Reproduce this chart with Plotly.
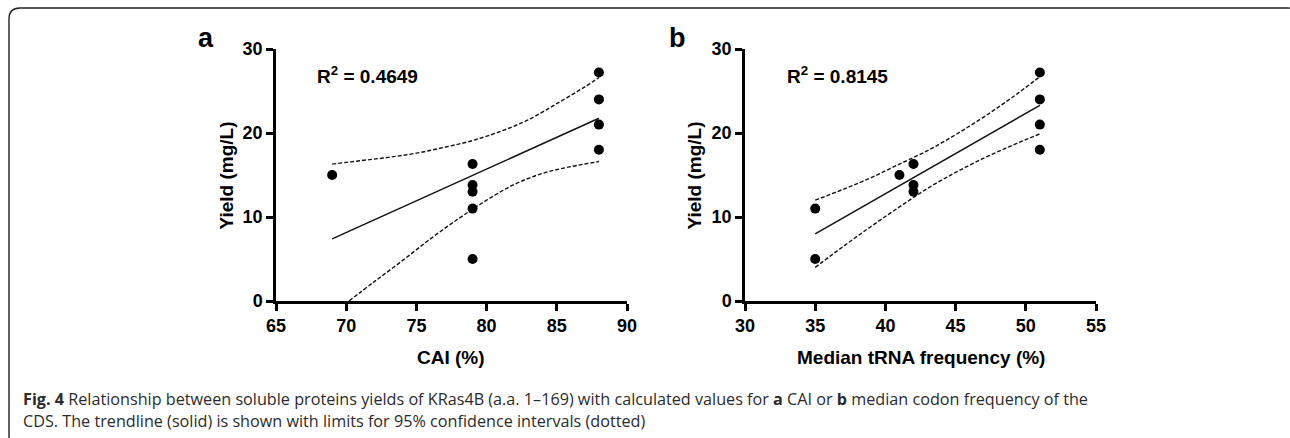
import plotly.graph_objects as go

W, H = 1290, 438

# ---- data ----
cai = [69, 79, 79, 79, 79, 79, 88, 88, 88, 88]
trna = [41, 42, 42, 42, 35, 35, 51, 51, 51, 51]
yield_mgl = [15.0, 16.3, 13.8, 13.0, 11.0, 5.0, 27.2, 24.0, 21.0, 18.0]

# trendlines (end points)
trend_a_x = [69, 88]
trend_a_y = [7.4, 21.75]
trend_b_x = [35, 51]
trend_b_y = [8.0, 23.3]

# 95% CI limits
upper_a_x = [69, 71, 73, 75, 77, 79, 81, 83, 85, 87, 88]
upper_a_y = [16.3, 16.7, 17.1, 17.6, 18.3, 19.1, 20.2, 21.6, 23.5, 25.5, 26.6]
lower_a_x = [70.2, 72, 74, 76, 78, 80, 82, 84, 86, 88]
lower_a_y = [0.0, 2.3, 4.8, 7.4, 9.8, 12.0, 13.9, 15.2, 16.0, 16.6]

upper_b_x = [35, 37, 39, 41, 43, 45, 47, 49, 51]
upper_b_y = [12.0, 13.3, 14.7, 16.3, 17.9, 19.8, 21.9, 24.2, 26.7]
lower_b_x = [35, 37, 39, 41, 43, 45, 47, 49, 51]
lower_b_y = [4.0, 6.5, 8.9, 11.2, 13.4, 15.3, 17.0, 18.5, 19.9]

r2_a = "R<sup>2</sup> = 0.4649"
r2_b = "R<sup>2</sup> = 0.8145"
xtitle_a = "CAI (%)"
xtitle_b = "Median tRNA frequency (%)"
ytitle = "Yield (mg/L)"
xticks_a = [65, 70, 75, 80, 85, 90]
xticks_b = [30, 35, 40, 45, 50, 55]
yticks = [0, 10, 20, 30]

caption1 = ("<b>Fig. 4</b> Relationship between soluble proteins yields of KRas4B (a.a. 1–169) "
            "with calculated values for <b>a</b> CAI or <b>b</b> median codon frequency of the")
caption2 = "CDS. The trendline (solid) is shown with limits for 95% confidence intervals (dotted)"

FONT = "Liberation Sans, Arial, sans-serif"
CAPFONT = "Open Sans, sans-serif"

def px(x):
    return x / W

def py(y):
    return 1 - y / H

fig = go.Figure()

def add_panel(xs, xref_axis, yref_axis, tx, ty, ux, uy, lx, ly):
    dash = dict(color="#111", width=1.4, dash="4px,2px", shape="spline")
    fig.add_trace(go.Scatter(x=ux, y=uy, mode="lines", line=dash,
                             xaxis=xref_axis, yaxis=yref_axis, showlegend=False, hoverinfo="skip"))
    fig.add_trace(go.Scatter(x=lx, y=ly, mode="lines", line=dash,
                             xaxis=xref_axis, yaxis=yref_axis, showlegend=False, hoverinfo="skip"))
    fig.add_trace(go.Scatter(x=tx, y=ty, mode="lines", line=dict(color="#111", width=1.5),
                             xaxis=xref_axis, yaxis=yref_axis, showlegend=False, hoverinfo="skip"))
    fig.add_trace(go.Scatter(x=xs, y=yield_mgl, mode="markers", marker=dict(color="black", size=10),
                             xaxis=xref_axis, yaxis=yref_axis, showlegend=False, cliponaxis=False))

add_panel(cai, "x", "y", trend_a_x, trend_a_y, upper_a_x, upper_a_y, lower_a_x, lower_a_y)
add_panel(trna, "x2", "y2", trend_b_x, trend_b_y, upper_b_x, upper_b_y, lower_b_x, lower_b_y)

ydom = [py(301), py(49)]
axis_common = dict(showline=True, linewidth=2.5, linecolor="black", ticks="outside", ticklen=7,
                   tickwidth=2.5, tickcolor="black", showgrid=False, zeroline=False, automargin=False,
                   tickfont=dict(family=FONT, size=18, color="black", weight="bold"))

fig.update_layout(
    width=W, height=H, autosize=False,
    margin=dict(l=0, r=0, t=0, b=0, pad=0, autoexpand=False),
    paper_bgcolor="white", plot_bgcolor="white", showlegend=False,
    xaxis=dict(domain=[px(276), px(627)], range=[65, 90], tickvals=xticks_a, anchor="y", **axis_common),
    yaxis=dict(domain=ydom, range=[0, 30], tickvals=yticks, anchor="x", **axis_common),
    xaxis2=dict(domain=[px(745), px(1096)], range=[30, 55], tickvals=xticks_b, anchor="y2", **axis_common),
    yaxis2=dict(domain=ydom, range=[0, 30], tickvals=yticks, anchor="x2", **axis_common),
)

ann = []
def A(text, x, y, size, xanchor="center", angle=0, weight="bold", family=FONT, color="black"):
    ann.append(dict(text=text, x=px(x), y=py(y), xref="paper", yref="paper", showarrow=False,
                    xanchor=xanchor, yanchor="middle", textangle=angle,
                    font=dict(family=family, size=size, color=color, weight=weight)))

A(xtitle_a, 451.5, 357, 19)
A(xtitle_b, 920.5, 357, 19)
A(ytitle, 226, 175.5, 19, angle=-90)
A(ytitle, 694, 175.5, 19, angle=-90)
A(r2_a, 315, 75, 19, xanchor="left")
A(r2_b, 785, 75, 19, xanchor="left")
A("a", 206, 38.5, 27)
A("b", 677, 38.5, 27)
A(caption1, 21, 399, 16.2, xanchor="left", weight="normal", family=CAPFONT, color="#2b2b2b")
A(caption2, 21, 421, 16.2, xanchor="left", weight="normal", family=CAPFONT, color="#2b2b2b")
fig.update_layout(annotations=ann)

# rounded frame around the figure
L, T, R, B, r = 9, 8, 1299, 447, 11
path = (f"M {px(L)},{py(T + r)} Q {px(L)},{py(T)} {px(L + r)},{py(T)} "
        f"L {px(R - r)},{py(T)} Q {px(R)},{py(T)} {px(R)},{py(T + r)} "
        f"L {px(R)},{py(B - r)} Q {px(R)},{py(B)} {px(R - r)},{py(B)} "
        f"L {px(L + r)},{py(B)} Q {px(L)},{py(B)} {px(L)},{py(B - r)} Z")
fig.add_shape(type="path", path=path, xref="paper", yref="paper",
              line=dict(color="#222", width=1.4), layer="below")

fig.write_html("out.html")
